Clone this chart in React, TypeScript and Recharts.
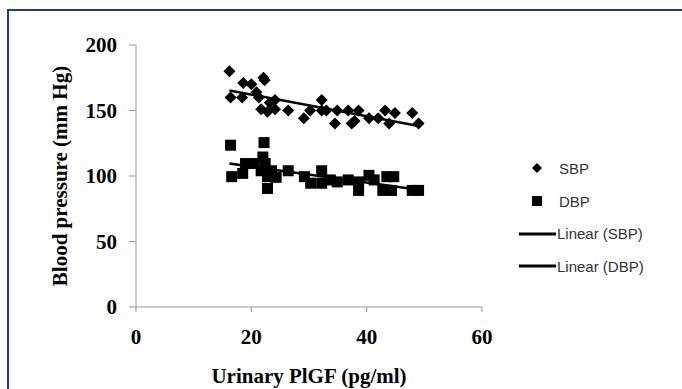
import React from 'react';
import { ScatterChart, Scatter, XAxis, YAxis } from 'recharts';

const sbpX = [16.2, 16.4, 18.4, 18.6, 20.0, 20.9, 21.3, 21.7, 22.1, 22.3, 22.8, 23.2, 24.1, 24.1, 26.4, 29.1, 30.2, 32.2, 32.2, 33.0, 34.5, 34.9, 36.8, 37.4, 37.9, 38.6, 40.4, 42.0, 43.2, 43.9, 44.9, 47.9, 49.0];
const sbpY = [180, 160, 160, 171, 170, 164, 160, 151, 175, 173, 149, 156, 158, 151, 150, 144, 150, 158, 150, 150, 140, 150, 150, 140, 142, 150, 144, 144, 150, 140, 148, 148, 140];

const dbpX = [16.4, 16.6, 18.5, 19.0, 20.5, 21.7, 22.2, 22.0, 22.4, 22.8, 22.8, 23.5, 24.3, 26.4, 29.2, 30.3, 32.2, 32.2, 33.7, 34.9, 36.8, 38.6, 38.6, 40.4, 41.3, 42.8, 43.5, 44.7, 44.3, 47.9, 49.0];
const dbpY = [123.5, 99.5, 102, 109.5, 109.5, 104, 125.5, 114.5, 109.5, 99.5, 90.5, 104, 99, 104, 99.5, 94.5, 104, 94.5, 97, 95.5, 97, 89, 95.5, 100.5, 97, 89, 99.5, 99.5, 89, 89, 89];

const sbpTrendX = [16.2, 49.0];
const sbpTrendY = [165.3, 138.2];
const dbpTrendX = [16.2, 49.0];
const dbpTrendY = [109.5, 89.5];

const xTicks = [0, 20, 40, 60];
const yTicks = [0, 50, 100, 150, 200];

const legendItems = [
  { label: 'SBP', kind: 'diamond' },
  { label: 'DBP', kind: 'square' },
  { label: 'Linear (SBP)', kind: 'line' },
  { label: 'Linear (DBP)', kind: 'line' },
];

const zip = (xs: number[], ys: number[]) => xs.map((x, i) => ({ x, y: ys[i] }));
const sbpData = zip(sbpX, sbpY);
const dbpData = zip(dbpX, dbpY);
const sbpTrend = zip(sbpTrendX, sbpTrendY);
const dbpTrend = zip(dbpTrendX, dbpTrendY);

const SERIF = '"Liberation Serif", "Times New Roman", serif';

const Diamond = (props: any) => {
  const { cx, cy } = props;
  const r = 6;
  return <polygon points={`${cx},${cy - r} ${cx + r},${cy} ${cx},${cy + r} ${cx - r},${cy}`} fill="#000" />;
};
const Square = (props: any) => {
  const { cx, cy } = props;
  const s = 11;
  return <rect x={cx - s / 2} y={cy - s / 2} width={s} height={s} fill="#000" />;
};
const NoShape = () => null;

const XTick = (props: any) => {
  const { x, y, payload } = props;
  return (
    <text x={x} y={y + 30} textAnchor="middle" style={{ fontFamily: SERIF, fontWeight: 700, fontSize: 21 }} fill="#000">
      {payload.value}
    </text>
  );
};
const YTick = (props: any) => {
  const { x, y, payload } = props;
  return (
    <text x={x - 10} y={y + 7} textAnchor="end" style={{ fontFamily: SERIF, fontWeight: 700, fontSize: 21 }} fill="#000">
      {payload.value}
    </text>
  );
};

const Legend = () => (
  <div style={{ position: 'absolute', left: 516, top: 152, fontFamily: '"Liberation Sans", Arial, sans-serif', fontSize: 15, color: '#333' }}>
    {legendItems.map((it, i) => (
      <div key={i} style={{ height: 32.7, display: 'flex', alignItems: 'center' }}>
        <svg width={40} height={20} style={{ display: 'block' }}>
          {it.kind === 'diamond' && <polygon points="21,5 26,10 21,15 16,10" fill="#000" />}
          {it.kind === 'square' && <rect x={16} y={5} width={10} height={10} fill="#000" />}
          {it.kind === 'line' && <line x1={3} y1={10} x2={40} y2={10} stroke="#000" strokeWidth={3} />}
        </svg>
        <span style={{ marginLeft: it.kind === 'line' ? 1 : 3 }}>{it.label}</span>
      </div>
    ))}
  </div>
);

export default function App() {
  return (
    <div style={{ position: 'fixed', left: 0, top: 0, width: 682, height: 389, overflow: 'hidden', background: '#fff' }}>
      <div style={{ position: 'absolute', left: 7, top: 9, width: 680, height: 400, border: '2px solid #1f3d8c', boxSizing: 'border-box' }} />
      <div style={{ position: 'absolute', left: 0, top: 0 }}>
        <ScatterChart width={682} height={389} margin={{ top: 45, right: 200, bottom: 52, left: 76 }}>
          <XAxis
            type="number"
            dataKey="x"
            domain={[0, 60]}
            ticks={xTicks}
            tick={<XTick />}
            tickLine={{ stroke: '#999' }}
            axisLine={{ stroke: '#999' }}
            tickSize={5}
            height={30}
            label={{ value: 'Urinary PlGF (pg/ml)', position: 'insideBottom', offset: -46, style: { fontFamily: SERIF, fontWeight: 700, fontSize: 21, fill: '#000' } }}
          />
          <YAxis
            type="number"
            dataKey="y"
            domain={[0, 200]}
            ticks={yTicks}
            tick={<YTick />}
            tickLine={{ stroke: '#999' }}
            axisLine={{ stroke: '#999' }}
            tickSize={7}
            width={60}
            label={{ value: 'Blood pressure (mm Hg)', angle: -90, position: 'center', dx: -46, style: { fontFamily: SERIF, fontWeight: 700, fontSize: 21, fill: '#000', textAnchor: 'middle' } }}
          />
          <Scatter name="SBP" data={sbpData} shape={<Diamond />} isAnimationActive={false} />
          <Scatter name="DBP" data={dbpData} shape={<Square />} isAnimationActive={false} />
          <Scatter name="Linear (SBP)" data={sbpTrend} line={{ stroke: '#000', strokeWidth: 2.5 }} shape={<NoShape />} isAnimationActive={false} />
          <Scatter name="Linear (DBP)" data={dbpTrend} line={{ stroke: '#000', strokeWidth: 2.5 }} shape={<NoShape />} isAnimationActive={false} />
        </ScatterChart>
      </div>
      <Legend />
    </div>
  );
}
